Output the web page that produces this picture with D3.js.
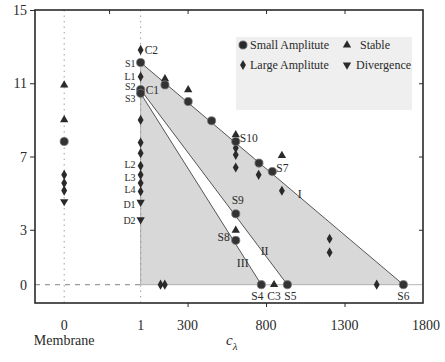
<!DOCTYPE html>
<html><head><meta charset="utf-8">
<script src="https://cdn.jsdelivr.net/npm/d3@7"></script>
<style>
html,body{margin:0;padding:0;background:#fff;}
svg{display:block;font-family:"Liberation Serif","DejaVu Serif",serif;}
</style></head>
<body><svg id="chart" width="445" height="362"></svg>
<script>
// ---------- data (c_lambda, value); "M" = Membrane column ----------
const smallAmplitude = [
  ["M",7.82],[1,12.13],[1,10.65],[1,10.45],[156,10.91],[304,10.0],[453,8.95],
  [607,7.82],[755,6.64],[840,6.18],[607,3.87],[607,2.42],[770,0],[936,0],[1675,0]
];
const stable = [
  ["M",10.9],["M",9.0],[156,11.24],[304,10.64],[607,8.18],[901,7.05],[607,2.97],[851,0]
];
const largeAmplitude = [
  ["M",6.0],["M",5.55],["M",5.14],
  [1,12.82],[1,11.36],[1,9.0],[1,7.76],[1,7.18],[1,6.49],[1,6.0],[1,5.55],[1,5.09],
  [128,0],[155,0],[607,7.46],[607,7.09],[607,6.4],[753,6.0],[901,5.13],
  [1205,2.51],[1205,1.76],[1505,0]
];
const divergence = [["M",4.54],[1,4.51],[1,3.55]];

// boundary lines I, II, III (start, end)
const lineI   = [[1,12.13],[1675,0]];
const lineII  = [[1,10.65],[936,0]];
const lineIII = [[1,10.45],[770,0]];
const lineNames = [["I",1014,5.02],["II",791,1.9],["III",651,1.25]];

const pointLabels = [
  ["C2",1,12.82],["S1",1,12.13],["L1",1,11.36],["S2",1,10.65],["S3",1,10.45],["C1",1,10.6],
  ["L2",1,6.49],["L3",1,6.0],["L4",1,5.09],["D1",1,4.51],["D2",1,3.55],
  ["S10",607,7.82],["S7",840,6.18],["S9",607,3.87],["S8",607,2.42],
  ["S4",770,0],["C3",851,0],["S5",936,0],["S6",1675,0]
];

const bottomTicks = [["M","0"],[1,"1"],[300,"300"],[800,"800"],[1300,"1300"],[1800,"1800"]];
const leftTicks = [15,11,7,3];
const legendItems = [
  ["Small Amplitute","circle"],["Stable","triangle"],
  ["Large Amplitute","diamond"],["Divergence","down"]
];

// ---------- drawing ----------
const svg = d3.select("#chart");
const L=35,R=423,T=10,B=303;
const MEMBRANE = -486;
const x = d3.scaleLinear().domain([-672,1800]).range([L,R]);
const y = d3.scaleLinear().domain([-1,15]).range([B,T]);
const px = c => c==="M" ? x(MEMBRANE) : x(c);
const ink = "#2a2a2a";

// legend background (faint)
svg.append("rect").attr("x",236).attr("y",37).attr("width",176).attr("height",73).attr("fill","#efefef");

// shaded regions
const area1 = [lineI[0], lineI[1], lineII[1], lineII[0]];
const area2 = [lineIII[0], lineIII[1], [1,0]];
const poly = d3.line().x(d=>px(d[0])).y(d=>y(d[1]));
svg.append("path").attr("d",poly(area1)+"Z").attr("fill","#d8d8d8");
svg.append("path").attr("d",poly(area2)+"Z").attr("fill","#d8d8d8");

// dotted guides
svg.append("line").attr("x1",px("M")).attr("x2",px("M")).attr("y1",T).attr("y2",B)
  .attr("stroke","#888").attr("stroke-width",0.8).attr("stroke-dasharray","1.5,4");
svg.append("line").attr("x1",px(1)).attr("x2",px(1)).attr("y1",T).attr("y2",B)
  .attr("stroke","#888").attr("stroke-width",0.8).attr("stroke-dasharray","1.5,4");
svg.append("line").attr("x1",L).attr("x2",px(1)).attr("y1",y(0)).attr("y2",y(0))
  .attr("stroke","#777").attr("stroke-width",0.9).attr("stroke-dasharray","5,5");
svg.append("line").attr("x1",px(1)).attr("x2",R).attr("y1",y(0)).attr("y2",y(0))
  .attr("stroke","#999").attr("stroke-width",0.7);
svg.append("line").attr("x1",px(1)).attr("x2",px(1)).attr("y1",y(lineI[0][1])).attr("y2",y(0))
  .attr("stroke","#999").attr("stroke-width",0.7);

// boundary lines
[lineI,lineII,lineIII].forEach(l=>{
  svg.append("path").attr("d",poly(l)).attr("fill","none").attr("stroke","#444").attr("stroke-width",0.9);
});

// axes
const gB = svg.append("g").attr("transform",`translate(0,${B})`)
  .call(d3.axisBottom(x).tickValues([300,800,1300]).tickSize(4).tickFormat(""));
const gT = svg.append("g").attr("transform",`translate(0,${T})`)
  .call(d3.axisTop(x).tickValues([-200,300,800,1300]).tickSize(-4).tickFormat(""));
const gL = svg.append("g").attr("transform",`translate(${L},0)`)
  .call(d3.axisLeft(y).tickValues(leftTicks).tickSize(5).tickFormat(""));
const gR = svg.append("g").attr("transform",`translate(${R},0)`)
  .call(d3.axisRight(y).tickValues([11,7,3]).tickSize(-4).tickFormat(""));
[gB,gT,gL,gR].forEach(g=>{
  g.select(".domain").remove();
  g.selectAll("line").attr("stroke",ink).attr("stroke-width",1);
});
svg.append("rect").attr("x",L).attr("y",T).attr("width",R-L).attr("height",B-T)
  .attr("fill","none").attr("stroke",ink).attr("stroke-width",1.6);

// tick labels
svg.append("g").selectAll("text").data(bottomTicks).join("text")
  .attr("x",d=>px(d[0])+(d[1]==="1800"?3:0)).attr("y",330)
  .attr("text-anchor","middle").attr("font-size",14).attr("fill",ink).text(d=>d[1]);
svg.append("g").selectAll("text").data(leftTicks.concat([0])).join("text")
  .attr("x",27).attr("y",d=>y(d)+5)
  .attr("text-anchor","end").attr("font-size",14).attr("fill",ink).text(d=>d);

svg.append("text").attr("x",px("M")).attr("y",345).attr("text-anchor","middle")
  .attr("font-size",14).attr("fill",ink).text("Membrane");
const cl = svg.append("text").attr("x",226).attr("y",345).attr("font-size",15).attr("fill",ink);
cl.append("tspan").attr("font-style","italic").text("c");
cl.append("tspan").attr("font-size",11).attr("font-style","italic").attr("dy",5).text("λ");

// markers
const sym = {
  circle: d3.symbol().type(d3.symbolCircle).size(52),
  triangle: d3.symbol().type(d3.symbolTriangle).size(30),
  diamond: d3.symbol().type(d3.symbolDiamond).size(30),
  down: d3.symbol().type(d3.symbolTriangle).size(30)
};
function drawSeries(data,kind){
  svg.append("g").selectAll("path").data(data).join("path")
    .attr("d",sym[kind]())
    .attr("transform",d=>`translate(${px(d[0])},${y(d[1])})${kind==="down"?" rotate(180)":""}`)
    .attr("fill",kind==="circle"?"#333":"#2a2a2a")
    .attr("stroke",kind==="circle"?"#777":"none").attr("stroke-width",0.8);
}
drawSeries(largeAmplitude,"diamond");
drawSeries(stable,"triangle");
drawSeries(divergence,"down");
drawSeries(smallAmplitude,"circle");

// point labels
const place = {
  C2:[4,4,"start"], S1:[-5,4,"end"], L1:[-5,3,"end"], S2:[-5,0,"end"], S3:[-5,9,"end"], C1:[5,3,"start"],
  L2:[-5,2,"end"], L3:[-5,6,"end"], L4:[-5,2,"end"], D1:[-5,6,"end"], D2:[-5,4,"end"],
  S10:[4,1,"start"], S7:[4,0,"start"], S9:[2,-10,"middle"], S8:[-6,1,"end"],
  S4:[-4,15,"middle"], C3:[0,15,"middle"], S5:[3,15,"middle"], S6:[0,15,"middle"]
};
svg.append("g").selectAll("text").data(pointLabels).join("text")
  .attr("x",d=>px(d[1])+place[d[0]][0]).attr("y",d=>y(d[2])+place[d[0]][1])
  .attr("text-anchor",d=>place[d[0]][2])
  .attr("font-size",d=>(d[1]===1 && place[d[0]][2]==="end")?10:11.5)
  .attr("fill",ink).text(d=>d[0]);
svg.append("g").selectAll("text").data(lineNames).join("text")
  .attr("x",d=>px(d[1])).attr("y",d=>y(d[2])+5).attr("text-anchor","middle")
  .attr("font-size",12).attr("fill",ink).text(d=>d[0]);

// legend
const lg = svg.append("g");
legendItems.forEach((it,i)=>{
  const col=i%2,row=Math.floor(i/2);
  const mx = col===0?243:347, my = row===0?45:65;
  lg.append("path").attr("d",sym[it[1]]())
    .attr("transform",`translate(${mx},${my})${it[1]==="down"?" rotate(180)":""}`)
    .attr("fill","#2a2a2a").attr("stroke",it[1]==="circle"?"#777":"none").attr("stroke-width",0.8);
  lg.append("text").attr("x",col===0?250:(row===0?360:356)).attr("y",my+4)
    .attr("font-size",12).attr("fill",ink).text(it[0]);
});
</script></body></html>
